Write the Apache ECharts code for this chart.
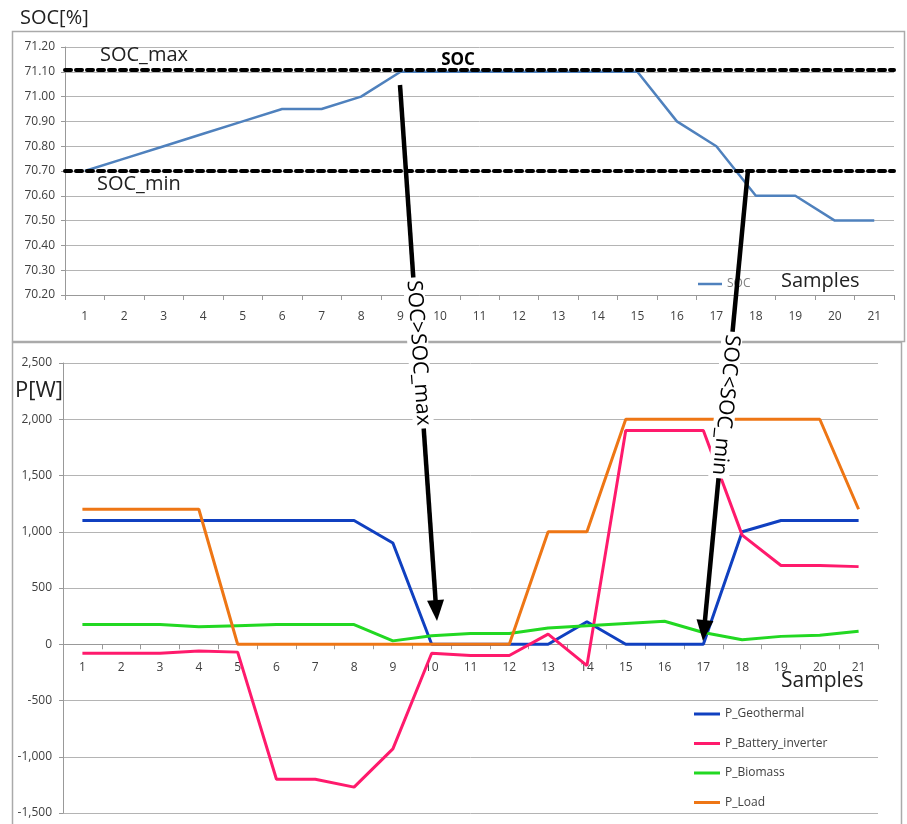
<!DOCTYPE html>
<html>
<head>
<meta charset="utf-8">
<script src="https://cdn.jsdelivr.net/npm/echarts@6/dist/echarts.min.js"></script>
<style>
  html, body { margin: 0; padding: 0; background: #fff; }
  #chart { width: 907px; height: 824px; }
</style>
</head>
<body>
<div id="chart"></div>
<script>
// samples on both x axes
const categories = ["1","2","3","4","5","6","7","8","9","10","11","12","13","14","15","16","17","18","19","20","21"];

// top panel: state of charge [%]
const socValues = [70.70, 70.75, 70.80, 70.85, 70.90, 70.95, 70.95, 71.00, 71.10, 71.10, 71.10,
                   71.10, 71.10, 71.10, 71.10, 70.90, 70.80, 70.60, 70.60, 70.50, 70.50];
const socMax = 71.11;
const socMin = 70.70;

// bottom panel: powers [W]
const pGeothermal = [1100, 1100, 1100, 1100, 1100, 1100, 1100, 1100, 900, 0, 0,
                     0, 0, 200, 0, 0, 0, 1000, 1100, 1100, 1100];
const pBattery = [-80, -80, -80, -60, -70, -1200, -1200, -1270, -930, -80, -100,
                  -100, 90, -190, 1900, 1900, 1900, 970, 700, 700, 690];
const pBiomass = [175, 175, 175, 155, 165, 175, 175, 175, 30, 75, 95,
                  95, 145, 165, 185, 205, 105, 40, 70, 80, 115];
const pLoad = [1200, 1200, 1200, 1200, 0, 0, 0, 0, 0, 0, 0,
               0, 1000, 1000, 2000, 2000, 2000, 2000, 2000, 2000, 1200];

const FONT = "Open Sans";
const TXT = "#404040";
const GRIDC = "#b4b4b4";

// power axis range, the sample axis is drawn where P = 0
const pMin = -1500, pMax = 2500;
const pGridHeight = 450;
const zeroOffset = -pGridHeight * (0 - pMin) / (pMax - pMin);

// black annotation arrow with a label sitting on the shaft
function arrow(x0, y0, x1, y1, label, ty) {
  const dx = x1 - x0, dy = y1 - y0;
  const len = Math.hypot(dx, dy);
  const ux = dx / len, uy = dy / len;
  const headLen = 21, headHalf = 8.5;
  const bx = x1 - ux * headLen, by = y1 - uy * headLen;
  const px = -uy, py = ux;
  const tx = x0 + dx * (ty - y0) / dy;
  return [
    { type: "line", z: 100, shape: { x1: x0, y1: y0, x2: bx + ux * 2, y2: by + uy * 2 },
      style: { stroke: "#000", lineWidth: 4.5 } },
    { type: "polygon", z: 100,
      shape: { points: [[x1, y1], [bx + px * headHalf, by + py * headHalf], [bx - px * headHalf, by - py * headHalf]] },
      style: { fill: "#000" } },
    { type: "text", z: 101, x: tx, y: ty, rotation: -Math.atan2(dy, dx),
      style: { text: label, fontSize: 21, fontFamily: FONT, fill: "#000", align: "center",
               verticalAlign: "middle", backgroundColor: "#fff", padding: [0, 3] } }
  ];
}

function lineSeries(name, data, color, gridIdx, width) {
  return {
    name: name, type: "line", data: data,
    xAxisIndex: gridIdx, yAxisIndex: gridIdx,
    symbol: "none", lineStyle: { color: color, width: width }, itemStyle: { color: color }
  };
}

const chart = echarts.init(document.getElementById("chart"));

const socSeries = lineSeries("SOC", socValues, "#4f81bd", 0, 2.5);
socSeries.markLine = {
  symbol: "none", silent: true, animation: false,
  label: { show: false },
  lineStyle: { color: "#000", width: 4, type: [6, 5], cap: "round" },
  data: [{ yAxis: socMax }, { yAxis: socMin }]
};

const option = {
  animation: false,
  backgroundColor: "#fff",
  textStyle: { fontFamily: FONT },
  grid: [
    { left: 65, right: 13, top: 47, height: 248, containLabel: false, outerBoundsMode: "none" },
    { left: 63, right: 29, top: 363, height: pGridHeight, containLabel: false, outerBoundsMode: "none" }
  ],
  xAxis: [0, 1].map(i => ({
    type: "category", gridIndex: i, data: categories, position: "bottom",
    offset: i === 0 ? 0 : zeroOffset,
    axisLine: { onZero: false, lineStyle: { color: "#999" } },
    axisTick: { show: true, length: 5, lineStyle: { color: "#999" } },
    axisLabel: { color: TXT, fontSize: 12, margin: i === 0 ? 16 : 17, fontFamily: FONT }
  })),
  yAxis: [
    {
      type: "value", gridIndex: 0, min: 70.2, max: 71.2, interval: 0.1,
      axisLine: { show: true, lineStyle: { color: "#999" } },
      axisTick: { show: true, length: 4, lineStyle: { color: "#999" } },
      splitLine: { lineStyle: { color: GRIDC } },
      axisLabel: { color: TXT, fontSize: 12, margin: 10, formatter: v => v.toFixed(2) }
    },
    {
      type: "value", gridIndex: 1, min: pMin, max: pMax, interval: 500,
      axisLine: { show: true, lineStyle: { color: "#999" } },
      axisTick: { show: true, length: 4, lineStyle: { color: "#999" } },
      splitLine: { lineStyle: { color: GRIDC } },
      axisLabel: { color: TXT, fontSize: 12, margin: 11, formatter: v => v.toLocaleString("en-US") }
    }
  ],
  legend: [
    {
      data: ["SOC"], left: 693, top: 273, icon: "rect", itemWidth: 24, itemHeight: 2.5,
      textStyle: { color: "#7f7f7f", fontSize: 12 }
    },
    {
      data: ["P_Geothermal", "P_Battery_inverter", "P_Biomass", "P_Load"],
      orient: "vertical", left: 689, top: 703, itemGap: 17.5, icon: "rect",
      itemWidth: 26, itemHeight: 3,
      textStyle: { color: TXT, fontSize: 12 }
    }
  ],
  series: [
    socSeries,
    lineSeries("P_Geothermal", pGeothermal, "#1040c0", 1, 3),
    lineSeries("P_Battery_inverter", pBattery, "#ff1a6c", 1, 3),
    lineSeries("P_Biomass", pBiomass, "#22d822", 1, 3),
    lineSeries("P_Load", pLoad, "#ee7615", 1, 3)
  ],
  graphic: [
    { type: "rect", z: -1, shape: { x: 12.5, y: 31.5, width: 892, height: 310 },
      style: { fill: "none", stroke: "#aaa", lineWidth: 1.5 } },
    { type: "rect", z: -1, shape: { x: 12.5, y: 342.5, width: 889, height: 490 },
      style: { fill: "none", stroke: "#aaa", lineWidth: 1.5 } },
    { type: "text", x: 20, y: 18, style: { text: "SOC[%]", fontSize: 20, fontFamily: FONT, fill: "#222", verticalAlign: "middle" } },
    { type: "text", x: 100, y: 55, z: 50, style: { text: "SOC_max", fontSize: 20, fontFamily: FONT, fill: "#222", verticalAlign: "middle" } },
    { type: "text", x: 97, y: 184, z: 50, style: { text: "SOC_min", fontSize: 20, fontFamily: FONT, fill: "#222", verticalAlign: "middle" } },
    { type: "text", x: 458, y: 60, z: 50, style: { text: "SOC", fontSize: 17, fontWeight: "bold", fontFamily: FONT, fill: "#000", align: "center", verticalAlign: "middle" } },
    { type: "text", x: 781, y: 281, z: 50, style: { text: "Samples", fontSize: 20, fontFamily: FONT, fill: "#222", verticalAlign: "middle" } },
    { type: "text", x: 15, y: 391, style: { text: "P[W]", fontSize: 22, fontFamily: FONT, fill: "#222", verticalAlign: "middle" } },
    { type: "text", x: 781, y: 681, z: 50, style: { text: "Samples", fontSize: 21, fontFamily: FONT, fill: "#222", verticalAlign: "middle" } }
  ]
    .concat(arrow(400, 85, 437, 621, "SOC>SOC_max", 353))
    .concat(arrow(748, 170, 703, 641, "SOC<SOC_min", 405))
};

chart.setOption(option);
</script>
</body>
</html>
